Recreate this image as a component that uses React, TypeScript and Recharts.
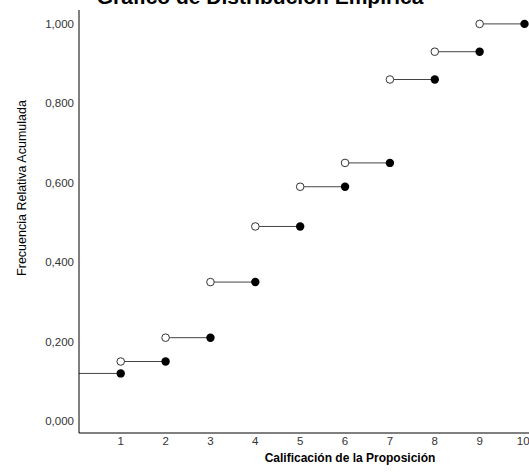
import { ComposedChart, Line, Scatter, XAxis, YAxis } from 'recharts';

// Calificación 1..10 and the cumulative relative frequency at each one
const scores = [1, 2, 3, 4, 5, 6, 7, 8, 9, 10];
const cumFreq = [0.12, 0.15, 0.21, 0.35, 0.49, 0.59, 0.65, 0.86, 0.93, 1.0];

const xTicks = [1, 2, 3, 4, 5, 6, 7, 8, 9, 10];
const yTicks = [0, 0.2, 0.4, 0.6, 0.8, 1.0];

const X_DOMAIN: [number, number] = [0.07, 10.1];
const Y_DOMAIN: [number, number] = [-0.03, 1.035];

const FONT = '"Liberation Sans", Arial, sans-serif';

// each step: open circle at previous score, filled dot at current score
const filled = scores.map((x, i) => ({ x, y: cumFreq[i] }));
const open = scores.slice(1).map((x, i) => ({ x: scores[i], y: cumFreq[i + 1] }));

const steps: { x: number; y: number | null }[] = [];
scores.forEach((x, i) => {
  const start = i === 0 ? X_DOMAIN[0] : scores[i - 1];
  steps.push({ x: start, y: cumFreq[i] });
  steps.push({ x, y: cumFreq[i] });
  steps.push({ x, y: null });
});

const fmt = (v: number) => v.toFixed(3).replace('.', ',');

const OpenDot = (p: any) => (
  <circle cx={p.cx} cy={p.cy} r={3.8} fill="#fff" stroke="#333" strokeWidth={1} />
);
const FilledDot = (p: any) => <circle cx={p.cx} cy={p.cy} r={4.2} fill="#000" />;

export default function App() {
  return (
    <div style={{ position: 'absolute', left: 0, top: 0, width: 529, height: 474, background: '#fff', overflow: 'hidden' }}>
      <div
        style={{
          position: 'absolute',
          left: 0,
          width: 520,
          top: -15,
          textAlign: 'center',
          fontFamily: FONT,
          fontWeight: 'bold',
          fontSize: 21,
          color: '#000',
        }}
      >
        Gráfico de Distribución Empírica
      </div>
      <ComposedChart width={529} height={474} margin={{ top: 10, right: 0, bottom: 0, left: 0 }}>
        <XAxis
          type="number"
          dataKey="x"
          domain={X_DOMAIN}
          ticks={xTicks}
          allowDataOverflow
          height={41}
          tickLine={false}
          tickSize={0}
          tickMargin={4}
          axisLine={{ stroke: '#000', strokeWidth: 1 }}
          tick={{ fontSize: 11.5, fill: '#333', fontFamily: FONT }}
          label={{
            content: () => (
              <text x={350} y={462} textAnchor="middle" fontFamily={FONT} fontWeight="bold" fontSize={12} fill="#000">
                Calificación de la Proposición
              </text>
            ),
          }}
        />
        <YAxis
          type="number"
          dataKey="y"
          domain={Y_DOMAIN}
          ticks={yTicks}
          allowDataOverflow
          width={79}
          tickLine={false}
          tickSize={0}
          tickMargin={5}
          tickFormatter={fmt}
          axisLine={{ stroke: '#000', strokeWidth: 1 }}
          tick={{ fontSize: 11.5, fill: '#333', fontFamily: FONT }}
          label={{
            content: () => (
              <text
                x={26}
                y={188}
                transform="rotate(-90 26 188)"
                textAnchor="middle"
                fontFamily={FONT}
                fontSize={12.5}
                fill="#000"
              >
                Frecuencia Relativa Acumulada
              </text>
            ),
          }}
        />
        <Line
          data={steps}
          dataKey="y"
          stroke="#444"
          strokeWidth={1}
          dot={false}
          activeDot={false}
          connectNulls={false}
          isAnimationActive={false}
        />
        <Scatter data={open} dataKey="y" shape={OpenDot} isAnimationActive={false} />
        <Scatter data={filled} dataKey="y" shape={FilledDot} isAnimationActive={false} />
      </ComposedChart>
    </div>
  );
}
